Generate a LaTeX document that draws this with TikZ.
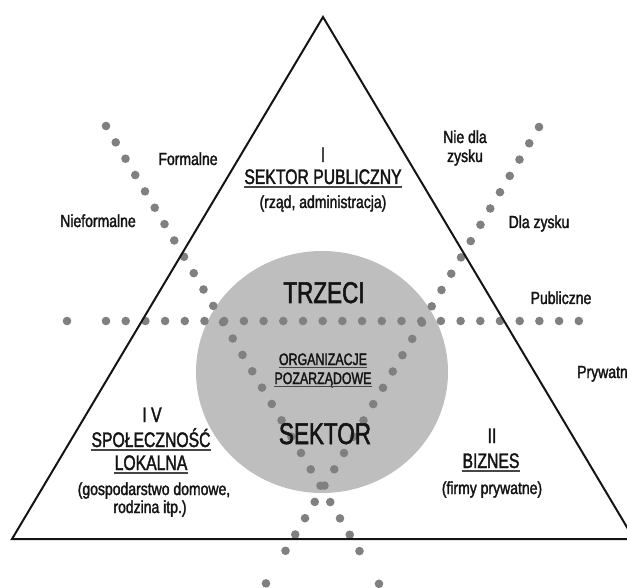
\documentclass[tikz,border=0pt]{standalone}
\usepackage{fontspec}
\setmainfont[FakeStretch=0.8,FakeBold=1.8]{Liberation Sans}
\newfontfamily\condf[FakeStretch=0.75,FakeBold=1.8]{Liberation Sans}
\definecolor{dotgray}{RGB}{128,128,128}
\definecolor{circgray}{RGB}{190,190,190}
\definecolor{ink}{RGB}{20,20,20}
\definecolor{ulgray}{RGB}{70,70,70}
\begin{document}
\begin{tikzpicture}[x=1pt,y=-1pt,
  txt/.style={inner sep=0pt, anchor=base, text=ink},
  lbl/.style={txt, font=\fontsize{17.5}{20}\selectfont},
  hd/.style={txt, font=\condf\fontsize{21}{25}\selectfont},
  sub/.style={txt, font=\fontsize{17.5}{20}\selectfont},
  big/.style={txt, font=\condf\fontsize{30}{34}\selectfont},
  ngo/.style={txt, font=\condf\fontsize{16.5}{19}\selectfont},
  ul/.style={draw=ulgray, line width=1.3pt},
  dotc/.style={fill=dotgray},
  edge/.style={draw=ink, line width=2pt, line join=miter}]
\useasboundingbox (0,0) rectangle (627,588);
% third sector disc
\fill[circgray] (322,372) ellipse [x radius=126, y radius=121];
% dotted lines
\foreach \k in {0,...,26,28} {
  \fill[dotc] ({106+9.75*\k},{126+16.35*\k}) circle[radius=4.3];
  \fill[dotc] ({539-9.75*\k},{127+16.3*\k}) circle[radius=4.3];
}
\fill[dotc] (67,321) circle[radius=4.3];
\foreach \k in {0,...,24} {
  \fill[dotc] ({106+19.7*\k},321) circle[radius=4.3];
}
% triangle
\coordinate (apex) at (323,17);
\coordinate (bl) at (12,539);
\coordinate (br) at (634,539);
\draw[edge] (apex) -- (bl) -- (br) -- cycle;
% sector I
\node[hd] (s1num) at (323,162) {I};
\node[hd] (s1) at (323,184) {SEKTOR PUBLICZNY};
\draw[ul] ([yshift=-3pt]s1.base west) -- ([yshift=-3pt]s1.base east);
\node[sub] (s1sub) at (323,208) {(rząd, administracja)};
% axis labels
\node[lbl] (formal) at (188,165) {Formalne};
\node[lbl] (nieformal) at (98,227) {Nieformalne};
\node[lbl] (niedla1) at (465,143) {Nie dla};
\node[lbl] (niedla2) at (465,162) {zysku};
\node[lbl] (dla) at (539,228) {Dla zysku};
\node[lbl] (publ) at (561,304) {Publiczne};
\node[lbl, anchor=base west] (pryw) at (577,378) {Prywatne};
% third sector
\node[big] (trzeci) at (324,303) {TRZECI};
\node[big] (sektor) at (325,444) {SEKTOR};
\node[ngo] (org) at (323,365) {ORGANIZACJE};
\draw[ul] ([yshift=-2.5pt]org.base west) -- ([yshift=-2.5pt]org.base east);
\node[ngo] (poz) at (323,384) {POZARZĄDOWE};
\draw[ul] ([yshift=-2.5pt]poz.base west) -- ([yshift=-2.5pt]poz.base east);
% sector IV
\node[hd] (s4num) at (152,422) {I V};
\node[hd] (s4a) at (151,447) {SPOŁECZNOŚĆ};
\draw[ul] ([yshift=-3pt]s4a.base west) -- ([yshift=-3pt]s4a.base east);
\node[hd] (s4b) at (151,470) {LOKALNA};
\draw[ul] ([yshift=-3pt]s4b.base west) -- ([yshift=-3pt]s4b.base east);
\node[sub] (s4c) at (154,495) {(gospodarstwo domowe,};
\node[sub] (s4d) at (150,513) {rodzina itp.)};
% sector II
\node[hd] (s2num) at (492,443) {II};
\node[hd] (s2) at (491,468) {BIZNES};
\draw[ul] ([yshift=-3pt]s2.base west) -- ([yshift=-3pt]s2.base east);
\node[sub] (s2sub) at (492,494) {(firmy prywatne)};
\end{tikzpicture}
\end{document}
